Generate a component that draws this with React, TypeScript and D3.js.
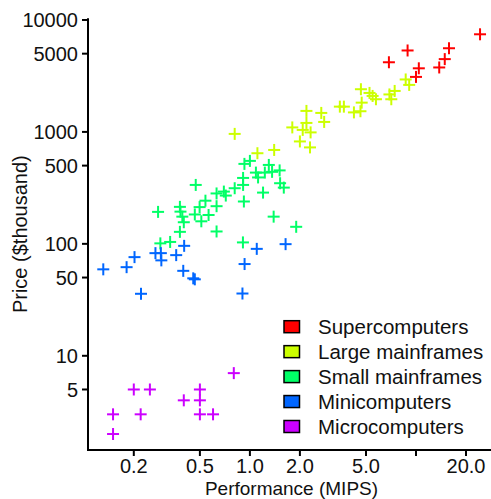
import React from "react";
import * as d3 from "d3";

const categories = ["Supercomputers", "Large mainframes", "Small mainframes", "Minicomputers", "Microcomputers"];
const colors = ["#FF0000", "#CCFF00", "#00FF66", "#0066FF", "#CC00FF"];

// [performance (MIPS), price ($thousand)]
const supercomputers: [number, number][] = [
  [24.3, 7450], [15.8, 5590], [8.9, 5340], [6.87, 4190], [14.9, 4470],
  [13.8, 3765], [10.4, 3700], [10.0, 3100],
];
const largeMainframes: [number, number][] = [
  [0.81, 960], [1.11, 645], [1.4, 690], [1.8, 1097], [2.08, 1042], [2.19, 1203],
  [2.32, 990], [2.0, 822], [2.3, 727], [2.19, 1540], [2.69, 1478], [2.8, 1228],
  [3.48, 1682], [3.68, 1682], [4.23, 1494], [4.63, 1530], [4.71, 1826], [4.66, 2406],
  [5.25, 2230], [5.48, 2096], [5.74, 1958], [6.92, 2162], [7.44, 2323], [7.1, 1958],
  [8.67, 2942], [9.1, 2630],
];
const smallMainframes: [number, number][] = [
  [0.28, 193], [0.289, 101], [0.331, 104], [0.379, 214], [0.382, 194], [0.392, 175],
  [0.4, 156], [0.379, 128], [0.472, 336], [0.466, 183], [0.51, 159], [0.564, 181],
  [0.498, 213], [0.54, 243], [0.63, 282], [0.63, 217], [0.63, 129], [0.697, 293],
  [0.716, 270], [0.81, 314], [0.91, 336], [0.91, 388], [0.92, 239], [0.927, 518],
  [1.0, 551], [1.087, 433], [1.12, 392], [1.2, 287], [1.23, 433], [1.3, 507],
  [1.36, 440], [1.51, 453], [1.52, 348], [1.6, 318], [1.39, 175], [1.9, 142],
  [0.908, 103],
];
const minicomputers: [number, number][] = [
  [0.131, 59.2], [0.181, 61.9], [0.202, 76.1], [0.221, 35.8], [0.27, 82.6], [0.291, 82.6],
  [0.293, 71.2], [0.36, 79.3], [0.402, 96], [0.397, 57.4], [0.456, 49.2], [0.466, 48.2],
  [0.902, 36.0], [0.929, 66], [1.1, 90.2], [1.64, 99.4],
];
const microcomputers: [number, number][] = [
  [0.15, 3], [0.15, 2], [0.2, 5], [0.25, 5], [0.22, 3], [0.4, 4],
  [0.5, 5], [0.5, 4], [0.5, 3], [0.6, 3], [0.8, 7],
];
const seriesData = [supercomputers, largeMainframes, smallMainframes, minicomputers, microcomputers];

const xTicks = [0.2, 0.5, 1, 2, 5, 10, 20];
const xTickLabels = ["0.2", "0.5", "1.0", "2.0", "5.0", "", "20.0"];
const yTicks = [5, 10, 50, 100, 500, 1000, 5000, 10000];
const yTickLabels = ["5", "10", "50", "100", "500", "1000", "5000", "10000"];

const W = 491;
const H = 499;
const FONT = "'Liberation Sans', Arial, Helvetica, sans-serif";

export default function App() {
  const x = d3.scaleLog().domain([0.106, 29.9]).range([88, 495]);
  const y = d3.scaleLog().domain([1.44, 10350]).range([450, 18.3]);
  const [x0, x1] = x.range();
  const [y0, y1] = y.range();
  const arm = 6;

  return (
    <svg
      width={W}
      height={H}
      style={{ position: "absolute", left: 0, top: 0, background: "#fff" }}
      fontFamily={FONT}
    >
      {/* points */}
      {seriesData.map((pts, si) => (
        <g key={si} stroke={colors[si]} strokeWidth={2}>
          {pts.map(([px, py], i) => {
            const cx = x(px);
            const cy = y(py);
            return (
              <g key={i}>
                <line x1={cx - arm} x2={cx + arm} y1={cy} y2={cy} />
                <line x1={cx} x2={cx} y1={cy - arm} y2={cy + arm} />
              </g>
            );
          })}
        </g>
      ))}

      {/* axes box (L) */}
      <line x1={x0} x2={x0} y1={y1} y2={y0 + 1} stroke="#000" strokeWidth={2} />
      <line x1={x0 - 1} x2={x1} y1={y0} y2={y0} stroke="#000" strokeWidth={2} />

      {/* y ticks */}
      {yTicks.map((t, i) => (
        <g key={t}>
          <line x1={x0 - 6} x2={x0} y1={y(t)} y2={y(t)} stroke="#000" strokeWidth={2} />
          <text x={78} y={y(t)} dy="0.36em" textAnchor="end" fontSize={20} fill="#111">
            {yTickLabels[i]}
          </text>
        </g>
      ))}

      {/* x ticks */}
      {xTicks.map((t, i) => (
        <g key={t}>
          <line x1={x(t)} x2={x(t)} y1={y0} y2={y0 + 6} stroke="#000" strokeWidth={2} />
          <text x={x(t)} y={473} textAnchor="middle" fontSize={20} fill="#111">
            {xTickLabels[i]}
          </text>
        </g>
      ))}

      {/* axis titles */}
      <text x={(x0 + x1) / 2} y={495} textAnchor="middle" fontSize={19} fill="#111">
        Performance (MIPS)
      </text>
      <text
        transform={`translate(27, ${(y0 + y1) / 2}) rotate(-90)`}
        textAnchor="middle"
        fontSize={20}
        fill="#111"
      >
        Price ($thousand)
      </text>

      {/* legend */}
      {categories.map((c, i) => {
        const cy = 326.7 + i * 24.95;
        return (
          <g key={c}>
            <rect x={284} y={cy - 6} width={15.5} height={12} fill={colors[i]} stroke="#000" strokeWidth={1.5} />
            <text x={318} y={cy} dy="0.36em" fontSize={20.5} fill="#111">
              {c}
            </text>
          </g>
        );
      })}
    </svg>
  );
}
